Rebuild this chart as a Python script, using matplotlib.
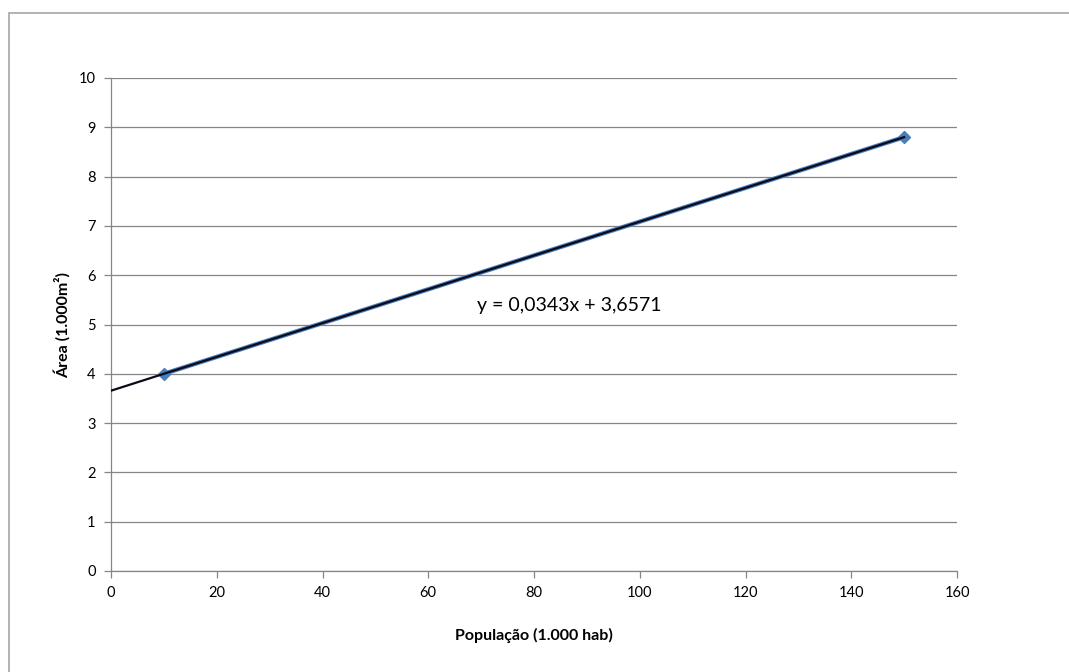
import matplotlib
matplotlib.use("Agg")
import matplotlib.pyplot as plt
from matplotlib.patches import Rectangle
import numpy as np

plt.rcParams['font.family'] = ['Lato', 'DejaVu Sans']

# data
populacao = [10, 150]
area = [4.0, 8.8]
x_ticks = [0, 20, 40, 60, 80, 100, 120, 140, 160]
y_ticks = [0, 1, 2, 3, 4, 5, 6, 7, 8, 9, 10]

fig = plt.figure(figsize=(10.69, 6.72), dpi=100)
ax = fig.add_axes([111 / 1069, 1 - 571 / 672, 846 / 1069, 493 / 672])

# chart border (cut by the image edge on the right and bottom)
fig.patches.append(Rectangle((9 / 1069, -0.1), 1.2, 1 - 13 / 672 + 0.1,
                             transform=fig.transFigure, fill=False,
                             edgecolor='#a6a6a6', linewidth=1.2))

# series
ax.plot(populacao, area, color='#4a7ebb', linewidth=3.2, marker='D',
        markersize=6, markerfacecolor='#4a7ebb', markeredgecolor='#4a7ebb',
        zorder=3, clip_on=False)

# linear trendline from 0
a, b = np.polyfit(populacao, area, 1)
xt = np.array([0, max(populacao)])
ax.plot(xt, a * xt + b, color='#0a0a1a', linewidth=1.6, zorder=4)
ax.text(69.2, 5.38, f"y = {a:.4f}x + {b:.4f}".replace('.', ','),
        fontsize=14, va='center', ha='left')

ax.set_xlim(0, 160)
ax.set_ylim(0, 10)
ax.set_xticks(x_ticks)
ax.set_yticks(y_ticks)
ax.yaxis.grid(True, color='#868686', linewidth=0.9)
ax.set_axisbelow(True)
for s in ['top', 'right']:
    ax.spines[s].set_visible(False)
for s in ['left', 'bottom']:
    ax.spines[s].set_color('#868686')
    ax.spines[s].set_linewidth(0.9)
ax.tick_params(axis='both', colors='#868686', labelcolor='black',
               labelsize=10.5, length=5, width=0.9, direction='out')
ax.tick_params(axis='x', pad=6)
ax.tick_params(axis='y', pad=6)

ax.set_xlabel('População (1.000 hab)', fontsize=11.5, fontweight='bold',
              labelpad=20)
ax.set_ylabel('Área (1.000m²)', fontsize=11.5, fontweight='bold',
              labelpad=6)

fig.savefig('out.png', dpi=100)
